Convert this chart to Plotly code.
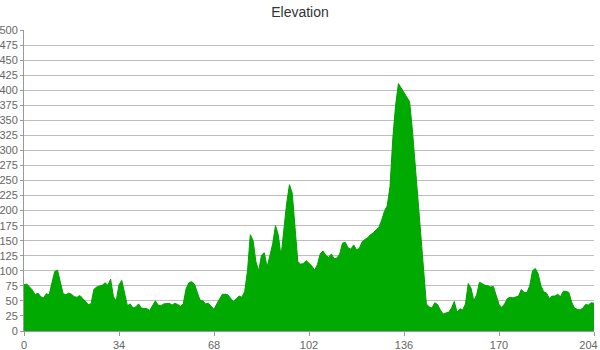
import plotly.graph_objects as go

elevation = [
    77, 78, 73, 68, 60, 63, 57, 55, 62, 60,
    80, 99, 101, 82, 62, 60, 63, 61, 57, 56,
    59, 54, 49, 44, 45, 69, 73, 75, 76, 80,
    76, 86, 57, 50, 77, 84, 60, 42, 45, 38,
    40, 45, 38, 38, 37, 34, 42, 50, 43, 42,
    45, 45, 46, 43, 46, 44, 41, 45, 70, 80,
    82, 78, 63, 51, 50, 45, 46, 40, 36, 45,
    54, 61, 61, 60, 54, 49, 54, 58, 56, 66,
    100, 160, 150, 115, 100, 126, 130, 106, 125, 145,
    175, 160, 124, 168, 212, 243, 229, 172, 115, 111,
    112, 117, 113, 108, 101, 110, 128, 133, 126, 122,
    128, 120, 121, 128, 146, 147, 138, 136, 143, 135,
    137, 148, 152, 155, 160, 163, 168, 172, 184, 199,
    208, 240, 320, 375, 411, 403, 396, 389, 381, 334,
    276, 218, 159, 100, 45, 40, 38, 47, 44, 35,
    28, 30, 31, 38, 49, 31, 37, 35, 45, 79,
    71, 50, 60, 81, 78, 76, 75, 73, 74, 60,
    44, 39, 45, 54, 56, 55, 56, 58, 69, 64,
    64, 75, 100, 104, 95, 75, 65, 63, 54, 58,
    58, 61, 57, 66, 66, 64, 48, 38, 36, 35,
    38, 44, 43, 47, 46,
]
distance = list(range(len(elevation)))
x_ticks = [0, 34, 68, 102, 136, 170, 204]
x_tick_labels = ["0", "34", "68", "102", "136", "170", "204\u2002\u2002"]
y_ticks = list(range(0, 501, 25))

fig = go.Figure(
    go.Scatter(
        x=distance,
        y=elevation,
        mode="lines",
        fill="tozeroy",
        fillcolor="#00aa00",
        line=dict(color="#00a000", width=1),
        hoverinfo="x+y",
    )
)

fig.update_layout(
    width=600,
    height=350,
    margin=dict(l=24, r=6, t=30, b=19),
    paper_bgcolor="white",
    plot_bgcolor="white",
    showlegend=False,
    hovermode="closest",
    font=dict(family="Liberation Sans, Arial, sans-serif", size=11, color="#666"),
    title=dict(
        text="Elevation",
        x=0.5,
        xanchor="center",
        y=0.965,
        yanchor="middle",
        font=dict(size=14, color="#333"),
    ),
    xaxis=dict(
        range=[0, 204],
        tickvals=x_ticks,
        ticktext=x_tick_labels,
        showgrid=False,
        zeroline=False,
        showline=True,
        linecolor="#999",
        linewidth=1,
        ticks="outside",
        ticklen=4,
        tickcolor="#999",
        tickfont=dict(size=11, color="#666"),
        automargin=False,
        ticklabeloverflow="allow",
    ),
    yaxis=dict(
        range=[0, 500],
        tickvals=y_ticks,
        ticktext=[str(t) for t in y_ticks],
        showgrid=True,
        gridcolor="#bdbdbd",
        gridwidth=1,
        zeroline=False,
        showline=True,
        linecolor="#999",
        linewidth=1,
        ticks="outside",
        ticklen=3,
        tickcolor="#999",
        tickfont=dict(size=11, color="#666"),
        automargin=False,
        ticklabeloverflow="allow",
    ),
)

fig.write_html(
    "out.html",
    config={"displayModeBar": False},
    post_script="document.body.style.margin='0';document.body.style.padding='0';",
)
